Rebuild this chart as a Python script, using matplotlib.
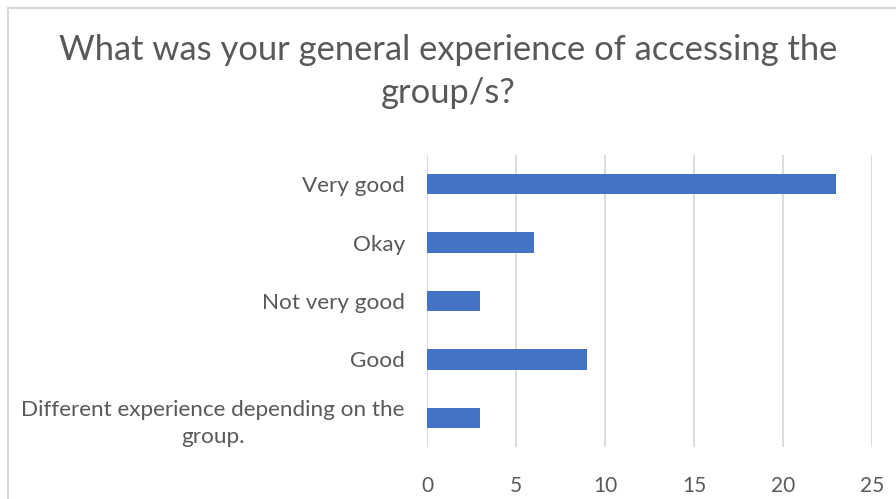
import matplotlib
matplotlib.use("Agg")
import matplotlib.pyplot as plt
from matplotlib.lines import Line2D

# Ответы на вопрос (сверху вниз, как на диаграмме)
CATEGORIES = [
    "Very good",
    "Okay",
    "Not very good",
    "Good",
    "Different experience depending on the\ngroup.",
]
COUNTS = [23, 6, 3, 9, 3]
X_TICKS = [0, 5, 10, 15, 20, 25]

TITLE = "What was your general experience of accessing the\ngroup/s?"

BAR_COLOR = "#4472C4"
TEXT_COLOR = "#595959"
GRID_COLOR = "#D9D9D9"

plt.rcParams["font.family"] = ["Lato", "DejaVu Sans"]

fig = plt.figure(figsize=(8.96, 4.99), dpi=100)
ax = fig.add_axes([0.4766, 0.1042, 0.4966, 0.5852])

y = list(range(len(CATEGORIES)))
ax.barh(y, COUNTS, height=0.35, color=BAR_COLOR, zorder=3)

ax.set_ylim(len(CATEGORIES) - 0.5, -0.5)
ax.set_xlim(0, 25)
ax.set_xticks(X_TICKS)
ax.set_yticks(y)
ax.set_yticklabels(CATEGORIES)

# многострочная подпись выравнивается по центру
for lbl in ax.get_yticklabels():
    lbl.set_multialignment("center")
    lbl.set_linespacing(1.45)

ax.tick_params(axis="both", length=0, colors=TEXT_COLOR)
ax.tick_params(axis="y", pad=16, labelsize=16.2)
ax.tick_params(axis="x", pad=21, labelsize=15)
ax.grid(axis="x", color=GRID_COLOR, linewidth=1.3, zorder=0)
for s in ax.spines.values():
    s.set_visible(False)

fig.text(0.5, 0.857, TITLE, ha="center", va="center", fontsize=24.8,
         color=TEXT_COLOR, linespacing=1.4)

# рамка области диаграммы (видны только левый и верхний края)
fig.add_artist(Line2D([8 / 896, 8 / 896], [0, 1 - 8 / 499],
                      transform=fig.transFigure, color=GRID_COLOR, lw=1.5))
fig.add_artist(Line2D([8 / 896, 1], [1 - 8 / 499, 1 - 8 / 499],
                      transform=fig.transFigure, color=GRID_COLOR, lw=1.5))

fig.savefig("out.png", dpi=100)
